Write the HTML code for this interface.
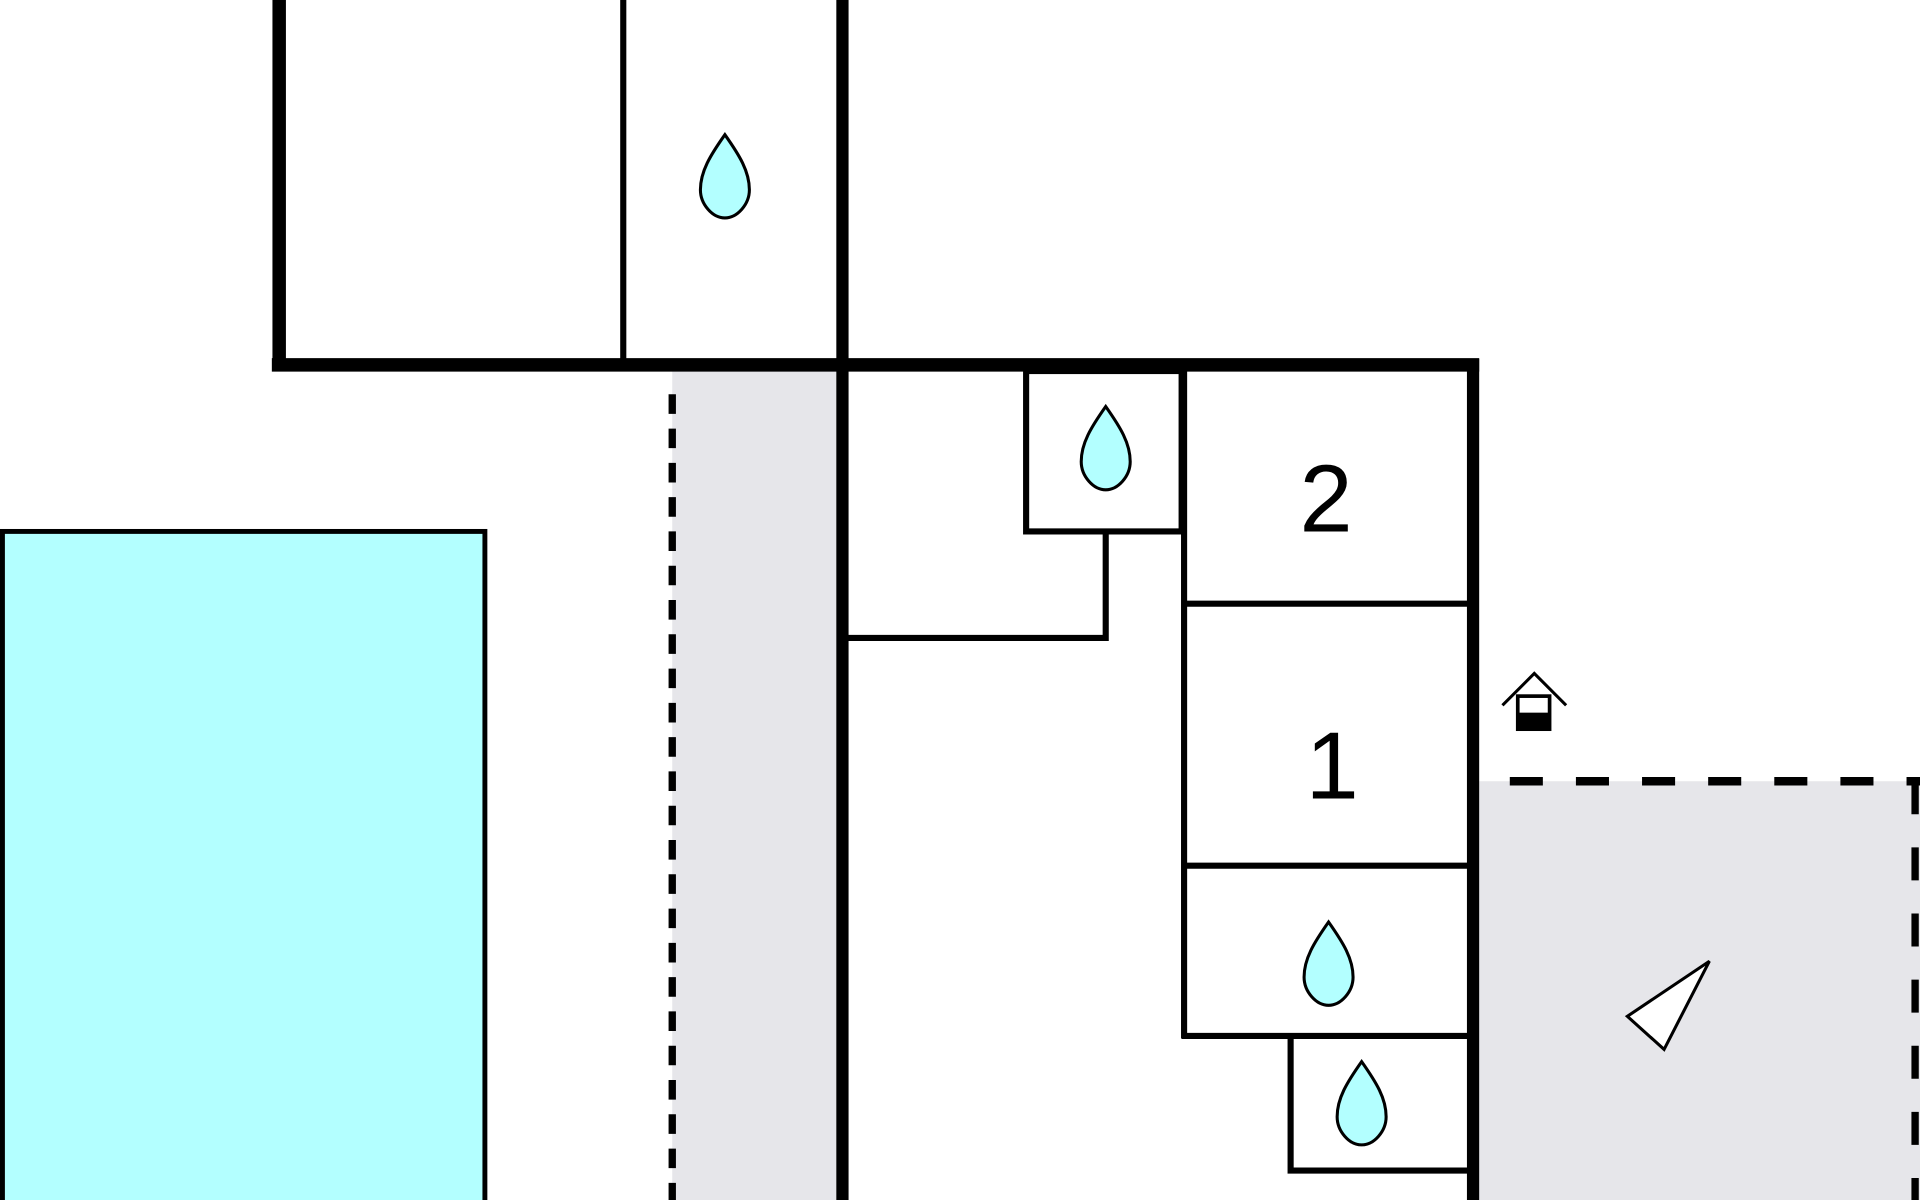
<!DOCTYPE html>
<html><head><style>html,body{margin:0;padding:0;background:#fff;}svg{display:block}</style></head>
<body>
<svg width="1920" height="1200" viewBox="0 0 1568 980" xmlns="http://www.w3.org/2000/svg">
<defs>
<path id="drop" d="M0,-35 C-12,-18 -20,-5 -20,10 C-20,22 -10,33 0,33 C10,33 20,22 20,10 C20,-5 12,-18 0,-35 Z" fill="#b3ffff" stroke="#000" stroke-width="2.5"/>
</defs>
<rect x="0" y="0" width="1568" height="980" fill="#fff"/>
<rect x="549" y="303" width="135" height="677" fill="#e6e6ea"/>
<rect x="1208" y="638" width="360" height="342" fill="#e6e6ea"/>
<rect x="2" y="434" width="394" height="560" fill="#b3ffff" stroke="#000" stroke-width="4"/>
<line x1="549" y1="322" x2="549" y2="980" stroke="#000" stroke-width="6" stroke-dasharray="16,12"/>
<line x1="1233" y1="638" x2="1568" y2="638" stroke="#000" stroke-width="7" stroke-dasharray="27,27"/>
<line x1="1564" y1="638" x2="1564" y2="980" stroke="#000" stroke-width="6" stroke-dasharray="27,27"/>
<g stroke="#000" fill="none">
<line x1="228" y1="0" x2="228" y2="303" stroke-width="11"/>
<line x1="222" y1="298" x2="1208" y2="298" stroke-width="11"/>
<line x1="688" y1="0" x2="688" y2="980" stroke-width="10"/>
<line x1="1203" y1="293" x2="1203" y2="980" stroke-width="10"/>
<line x1="509" y1="0" x2="509" y2="298" stroke-width="5"/>
<rect x="838" y="303" width="127" height="131" stroke-width="5"/>
<polyline points="903,434 903,521 690,521" stroke-width="5"/>
<line x1="967" y1="303" x2="967" y2="848" stroke-width="5"/>
<line x1="967" y1="493" x2="1200" y2="493" stroke-width="5"/>
<line x1="967" y1="707" x2="1200" y2="707" stroke-width="5"/>
<line x1="965" y1="846" x2="1200" y2="846" stroke-width="5"/>
<polyline points="1054,846 1054,956 1200,956" stroke-width="5"/>
</g>
<use href="#drop" x="592" y="145"/>
<use href="#drop" x="903" y="367"/>
<use href="#drop" x="1085" y="788"/>
<use href="#drop" x="1112" y="902"/>
<text x="1083" y="434" font-family="Liberation Sans, sans-serif" font-size="78" text-anchor="middle">2</text>
<text x="1088" y="652" font-family="Liberation Sans, sans-serif" font-size="78" text-anchor="middle">1</text>
<polyline points="1227,576 1253,550 1279,576" fill="none" stroke="#000" stroke-width="2.5"/>
<rect x="1238" y="567" width="29" height="30" fill="#000"/>
<rect x="1241" y="570" width="23" height="12" fill="#fff"/>
<polygon points="1396,785 1329,830 1359,857" fill="#fff" stroke="#000" stroke-width="2.5"/>
</svg>
</body></html>
